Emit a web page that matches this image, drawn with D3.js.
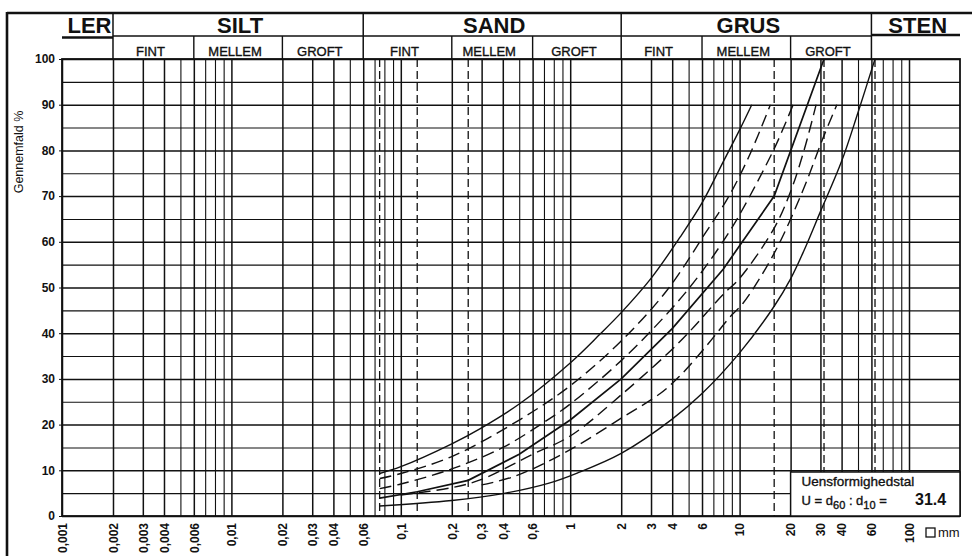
<!DOCTYPE html>
<html>
<head>
<meta charset="utf-8">
<script src="https://cdn.jsdelivr.net/npm/d3@7"></script>
<style>
  body { margin: 0; background: #fff; }
  svg { display: block; font-family: "Liberation Sans", Arial, Helvetica, sans-serif; }
  .grid .domain { display: none; }
  .grid line { stroke: #111; }
  .xlab .domain, .ylab .domain { display: none; }
  .xlab text, .ylab text { font-size: 12px; font-weight: bold; fill: #111; }
  .ylab line { stroke: #111; }
  .curve { fill: none; stroke: #111; }
  .sub { stroke: #111; stroke-width: 0.35px; }
</style>
</head>
<body>
<div id="chart"></div>
<script>
// kornstørrelser (mm) med tal under aksen
var xTicks = [0.001, 0.002, 0.003, 0.004, 0.006, 0.01, 0.02, 0.03, 0.04, 0.06,
  0.1, 0.2, 0.3, 0.4, 0.6, 1, 2, 3, 4, 6, 10, 20, 30, 40, 60, 100]
// alle lodrette gitterlinjer
var gridX = [0.001, 0.002, 0.003, 0.004, 0.005, 0.006, 0.007, 0.008, 0.009,
  0.01, 0.02, 0.03, 0.04, 0.05, 0.06, 0.07, 0.08, 0.09,
  0.1, 0.2, 0.3, 0.4, 0.5, 0.6, 0.7, 0.8, 0.9,
  1, 2, 3, 4, 5, 6, 7, 8, 9,
  10, 20, 30, 40, 50, 60, 70, 80, 90, 100]
// sigteåbninger, stiplede
var sieveX = [0.075, 0.125, 0.25, 16, 31.5, 63]
var yTicks = [0, 10, 20, 30, 40, 50, 60, 70, 80, 90, 100]
var gridY = [0, 5, 10, 15, 20, 25, 30, 35, 40, 45, 50, 55, 60, 65, 70, 75, 80, 85, 90, 95, 100]

// fraktioner
var mainNames = ['LER', 'SILT', 'SAND', 'GRUS', 'STEN']
var mainBounds = [0.001, 0.002, 0.06, 2, 60, 200]
var subNames = ['FINT', 'MELLEM', 'GROFT']
var subBounds = [[0.002, 0.006, 0.02, 0.06], [0.06, 0.2, 0.6, 2], [2, 6, 20, 60]]

// kurver: [mm, gennemfald %]
var upperLimit = [[0.075, 9.3], [0.1, 10.8], [0.2, 15.8], [0.3, 19.3], [0.5, 24.5],
  [1, 33.5], [1.5, 39.8], [2, 44.5], [3, 52], [4.45, 61], [6, 68.5], [8, 77.5], [10, 84.5], [11.8, 90]]
var dashA = [[0.075, 8.2], [0.1, 9.3], [0.2, 13], [0.5, 21], [1, 28.5], [2, 38.3], [3.75, 49.5],
  [6.3, 62], [8.5, 69.5], [11.3, 78.5], [15.2, 90]]
var dashB = [[0.075, 6], [0.1, 7], [0.2, 10.3], [0.4, 15], [0.7, 20.5], [1, 24.5], [2, 34],
  [4, 45.5], [6, 53.5], [8.8, 62.5], [11.3, 69.5], [16.3, 81], [20.7, 90]]
var sample = [[0.075, 3.9], [0.125, 5.3], [0.25, 7.8], [0.5, 13.5], [1, 21], [2, 30], [4, 41],
  [8, 54], [16, 70], [31.5, 100]]
var dashC = [[0.1, 4.6], [0.2, 6.2], [0.3, 8], [0.6, 13.5], [1, 17.5], [2, 26.5], [4.4, 38],
  [8, 48.5], [10, 52], [16, 63], [20, 71], [24, 80], [28.3, 90]]
var dashD = [[0.3, 6.8], [0.48, 8.8], [1, 14.5], [2, 21.4], [3.4, 26.8], [4.4, 30.5], [6.3, 37],
  [8.8, 43.6], [10.5, 46.6], [16, 57.5], [23.5, 71], [31, 82.6], [37.5, 90]]
var lowerLimit = [[0.075, 2.2], [0.2, 3.4], [0.4, 4.9], [0.75, 7.2], [1.1, 9.4], [2, 13.7],
  [4, 21.2], [6, 26.8], [10, 35.7], [16, 45.9], [20, 51.9], [24, 58.1], [30, 66.6],
  [40, 77.6], [50, 88.3], [63, 100]]

var uValue = '31.4'

;(function (d3) {
  var width = 972, height = 556
  var margin = { top: 59, right: 12, bottom: 40, left: 62 }
  var w = width - margin.left - margin.right
  var h = height - margin.top - margin.bottom

  var svg = d3.select('#chart').append('svg')
    .attr('width', width)
    .attr('height', height)

  var x = d3.scaleLog().domain([0.001, 200]).range([0, w])
  var y = d3.scaleLinear().domain([0, 100]).range([h, 0])
  var labeled = xTicks.map(String)

  var g = svg.append('g')
    .attr('transform', 'translate(' + margin.left + ',' + margin.top + ')')

  // vandrette gitterlinjer
  g.append('g')
    .classed('grid', true)
    .call(d3.axisLeft(y).tickValues(gridY).tickSize(-w).tickFormat(''))
    .selectAll('.tick line')
    .attr('stroke-width', function (d) { return d % 10 === 0 ? 1.5 : 1.1 })

  // lodrette gitterlinjer
  g.append('g')
    .classed('grid', true)
    .attr('transform', 'translate(0,' + h + ')')
    .call(d3.axisBottom(x).tickValues(gridX).tickSize(-h).tickFormat(''))
    .selectAll('.tick line')
    .attr('stroke-width', function (d) { return labeled.indexOf(String(d)) >= 0 ? 1.5 : 1.1 })

  // sigtelinjer
  g.append('g')
    .selectAll('line')
    .data(sieveX)
    .enter()
    .append('line')
    .attr('x1', function (d) { return x(d) })
    .attr('x2', function (d) { return x(d) })
    .attr('y1', 0)
    .attr('y2', h)
    .attr('stroke', '#111')
    .attr('stroke-width', 1.3)
    .attr('stroke-dasharray', '8,4')

  // kurver
  var smooth = d3.line()
    .x(function (d) { return x(d[0]) })
    .y(function (d) { return y(d[1]) })
    .curve(d3.curveCatmullRom.alpha(0.5))
  var straight = d3.line()
    .x(function (d) { return x(d[0]) })
    .y(function (d) { return y(d[1]) })

  var curves = [
    { data: upperLimit, dash: null, line: smooth, sw: 1.4 },
    { data: dashA, dash: '12,6', line: smooth, sw: 1.4 },
    { data: dashB, dash: '12,6', line: smooth, sw: 1.4 },
    { data: sample, dash: null, line: straight, sw: 1.7 },
    { data: dashC, dash: '12,6', line: smooth, sw: 1.4 },
    { data: dashD, dash: '12,6', line: smooth, sw: 1.4 },
    { data: lowerLimit, dash: null, line: smooth, sw: 1.4 }
  ]
  g.append('g')
    .selectAll('path')
    .data(curves)
    .enter()
    .append('path')
    .classed('curve', true)
    .attr('d', function (d) { return d.line(d.data) })
    .attr('stroke-width', function (d) { return d.sw })
    .attr('stroke-dasharray', function (d) { return d.dash })

  // ramme om diagrammet
  g.append('rect')
    .attr('width', w)
    .attr('height', h)
    .attr('fill', 'none')
    .attr('stroke', '#111')
    .attr('stroke-width', 1.8)

  // x-tal, lodret
  var xAxis = g.append('g')
    .classed('xlab', true)
    .attr('transform', 'translate(0,' + h + ')')
    .call(d3.axisBottom(x).tickValues(xTicks).tickSize(0)
      .tickFormat(function (d) { return String(d).replace('.', ',') }))
  xAxis.selectAll('text')
    .attr('transform', 'rotate(-90)')
    .attr('x', -7)
    .attr('y', 0)
    .attr('dy', '0.36em')
    .style('text-anchor', 'end')

  // y-tal
  g.append('g')
    .classed('ylab', true)
    .call(d3.axisLeft(y).tickValues(yTicks).tickSize(3).tickPadding(4))

  svg.append('text')
    .attr('transform', 'translate(19,152) rotate(-90)')
    .attr('text-anchor', 'middle')
    .attr('dy', '0.35em')
    .style('font-size', '12.5px')
    .style('fill', '#111')
    .text('Gennemfald %')

  // hoved med fraktioner
  var head = svg.append('g')
    .attr('transform', 'translate(' + margin.left + ',0)')
  var ink = '#111'

  head.append('line')
    .attr('x1', x(0.002)).attr('x2', x(60))
    .attr('y1', 36).attr('y2', 36)
    .attr('stroke', ink).attr('stroke-width', 1.4)
  head.append('line')
    .attr('x1', 0).attr('x2', x(0.002))
    .attr('y1', 37.5).attr('y2', 37.5)
    .attr('stroke', ink).attr('stroke-width', 2.4)
  head.append('line')
    .attr('x1', x(60)).attr('x2', w)
    .attr('y1', 35).attr('y2', 35)
    .attr('stroke', ink).attr('stroke-width', 2.4)

  head.selectAll('.main-div')
    .data(mainBounds.slice(1, 5))
    .enter()
    .append('line')
    .attr('x1', function (d) { return x(d) })
    .attr('x2', function (d) { return x(d) })
    .attr('y1', 13).attr('y2', margin.top)
    .attr('stroke', ink).attr('stroke-width', 1.5)

  head.selectAll('.main-name')
    .data(mainNames)
    .enter()
    .append('text')
    .attr('x', function (d, i) { return (x(mainBounds[i]) + x(mainBounds[i + 1])) / 2 + 2 })
    .attr('y', 33)
    .attr('text-anchor', 'middle')
    .style('font-size', '22px')
    .style('font-weight', 'bold')
    .style('fill', ink)
    .text(function (d) { return d })

  subBounds.forEach(function (b) {
    head.selectAll(null)
      .data(b.slice(1, 3))
      .enter()
      .append('line')
      .attr('x1', function (d) { return x(d) })
      .attr('x2', function (d) { return x(d) })
      .attr('y1', 36).attr('y2', margin.top)
      .attr('stroke', ink).attr('stroke-width', 1.4)
    head.selectAll(null)
      .data(subNames)
      .enter()
      .append('text')
      .classed('sub', true)
      .attr('x', function (d, i) { return (x(b[i]) + x(b[i + 1])) / 2 - 3 })
      .attr('y', 56)
      .attr('text-anchor', 'middle')
      .style('font-size', '13px')
      .style('fill', ink)
      .text(function (d) { return d })
  })

  // ydre ramme
  svg.append('line')
    .attr('x1', 7).attr('x2', width)
    .attr('y1', 13).attr('y2', 13)
    .attr('stroke', ink).attr('stroke-width', 2.6)
  svg.append('line')
    .attr('x1', 7).attr('x2', 7)
    .attr('y1', 12).attr('y2', height)
    .attr('stroke', ink).attr('stroke-width', 2.6)

  // uensformighedstal
  var bx = margin.left + x(20)
  var box = svg.append('g')
  box.append('rect')
    .attr('x', bx)
    .attr('y', 472)
    .attr('width', margin.left + w - bx)
    .attr('height', margin.top + h - 472)
    .attr('fill', '#fff')
    .attr('stroke', ink)
    .attr('stroke-width', 1.5)
  box.append('text')
    .classed('sub', true)
    .attr('x', bx + 11)
    .attr('y', 486)
    .style('font-size', '13.5px')
    .style('fill', ink)
    .text('Uensformighedstal')
  var ut = box.append('text')
    .classed('sub', true)
    .attr('x', bx + 11)
    .attr('y', 505)
    .style('font-size', '13px')
    .style('fill', ink)
  ut.append('tspan').text('U = d')
  ut.append('tspan').attr('dy', 4).style('font-size', '11px').text('60')
  ut.append('tspan').attr('dy', -4).text(' : d')
  ut.append('tspan').attr('dy', 4).style('font-size', '11px').text('10')
  ut.append('tspan').attr('dy', -4).text(' =')
  box.append('text')
    .attr('x', 915)
    .attr('y', 505)
    .style('font-size', '16px')
    .style('font-weight', 'bold')
    .style('fill', ink)
    .text(uValue)

  // enhed
  svg.append('rect')
    .attr('x', 926).attr('y', 528)
    .attr('width', 9).attr('height', 9)
    .attr('fill', 'none')
    .attr('stroke', ink).attr('stroke-width', 1.3)
  svg.append('text')
    .attr('x', 938).attr('y', 537)
    .style('font-size', '13px')
    .style('fill', ink)
    .text('mm')
})(d3)
</script>
</body>
</html>
